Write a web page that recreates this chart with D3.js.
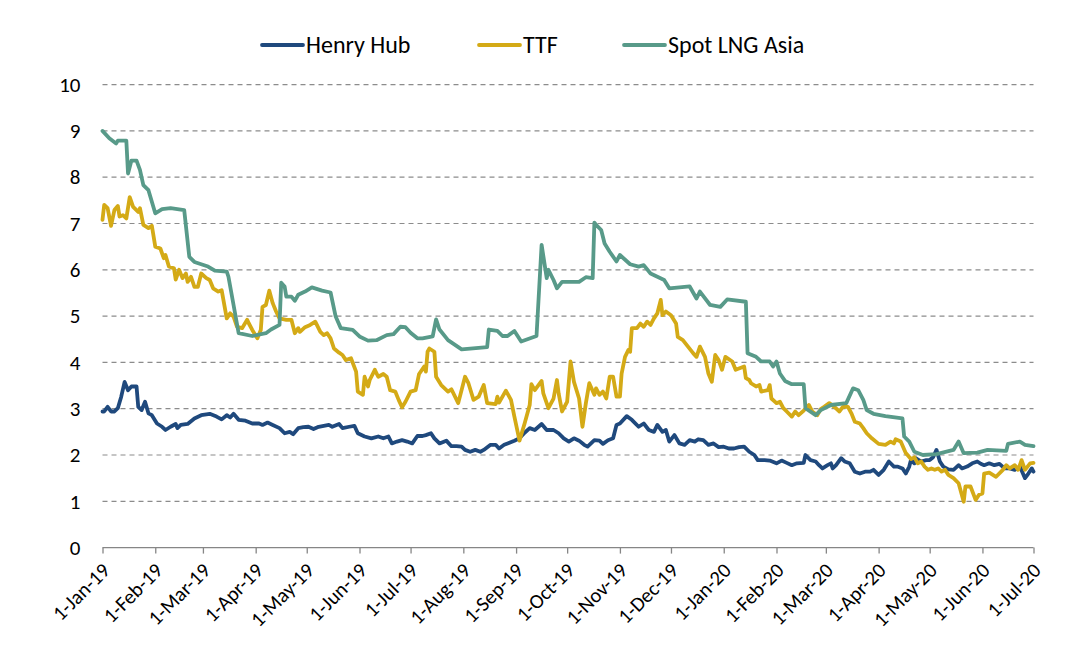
<!DOCTYPE html>
<html>
<head>
<meta charset="utf-8">
<script src="https://cdn.jsdelivr.net/npm/d3@7"></script>
<style>
	body { margin: 0; background: #fff; }
	svg { display: block; font-family: Carlito, Lato, "Noto Sans", sans-serif; }
	.grid line { stroke: #8c8c8c; stroke-dasharray: 5,4; stroke-width: 1.2; }
	.line { fill: none; stroke-width: 3.8; stroke-linejoin: round; stroke-linecap: round; }
</style>
</head>
<body>
<div class="chart"></div>
<script>
var WIDTH = 1079,
	HEIGHT = 669;

var LEFT = 102.5, RIGHT = 1033.5, TOP = 84.6, BOTTOM = 547.6;

var seriesNames = ["Henry Hub", "TTF", "Spot LNG Asia"];
var seriesColors = ["#1f497d", "#d4aa16", "#589a89"];
var yTicks = [0, 1, 2, 3, 4, 5, 6, 7, 8, 9, 10];
var xStart = "2019-01-01", xEnd = "2020-07-01";

// [date, $/MMBtu]
var henryHub = [
	["2019-01-01",2.94],["2019-01-02",2.94],["2019-01-04",3.04],["2019-01-06",2.94],["2019-01-08",2.94],
	["2019-01-10",3.01],["2019-01-12",3.26],["2019-01-14",3.58],["2019-01-16",3.40],["2019-01-18",3.48],
	["2019-01-21",3.48],["2019-01-22",3.04],["2019-01-24",2.97],["2019-01-26",3.15],["2019-01-28",2.90],
	["2019-01-30",2.86],["2019-02-02",2.68],["2019-02-05",2.61],["2019-02-07",2.54],["2019-02-10",2.61],
	["2019-02-13",2.67],["2019-02-14",2.58],["2019-02-16",2.65],["2019-02-20",2.67],["2019-02-24",2.79],
	["2019-02-28",2.86],["2019-03-05",2.89],["2019-03-09",2.83],["2019-03-12",2.77],["2019-03-15",2.86],
	["2019-03-17",2.81],["2019-03-19",2.89],["2019-03-22",2.76],["2019-03-26",2.74],["2019-03-30",2.68],
	["2019-04-03",2.68],["2019-04-05",2.65],["2019-04-08",2.70],["2019-04-11",2.65],["2019-04-15",2.58],
	["2019-04-18",2.47],["2019-04-21",2.50],["2019-04-23",2.45],["2019-04-26",2.58],["2019-04-29",2.60],
	["2019-05-02",2.61],["2019-05-05",2.56],["2019-05-08",2.61],["2019-05-11",2.63],["2019-05-14",2.65],
	["2019-05-16",2.61],["2019-05-20",2.67],["2019-05-22",2.58],["2019-05-26",2.61],["2019-05-29",2.63],
	["2019-05-31",2.47],["2019-06-04",2.40],["2019-06-08",2.36],["2019-06-12",2.40],["2019-06-15",2.36],
	["2019-06-18",2.40],["2019-06-20",2.25],["2019-06-23",2.29],["2019-06-26",2.32],["2019-06-29",2.29],
	["2019-07-02",2.25],["2019-07-05",2.41],["2019-07-08",2.41],["2019-07-10",2.43],["2019-07-13",2.47],
	["2019-07-15",2.36],["2019-07-18",2.25],["2019-07-22",2.31],["2019-07-25",2.19],["2019-07-28",2.19],
	["2019-07-31",2.18],["2019-08-02",2.11],["2019-08-05",2.07],["2019-08-08",2.11],["2019-08-11",2.07],
	["2019-08-13",2.11],["2019-08-17",2.22],["2019-08-20",2.22],["2019-08-22",2.14],["2019-08-25",2.22],
	["2019-08-27",2.25],["2019-08-31",2.31],["2019-09-03",2.36],["2019-09-06",2.48],["2019-09-09",2.58],
	["2019-09-12",2.54],["2019-09-16",2.67],["2019-09-19",2.54],["2019-09-23",2.54],["2019-09-26",2.47],
	["2019-09-29",2.36],["2019-10-02",2.29],["2019-10-05",2.36],["2019-10-08",2.31],["2019-10-11",2.22],
	["2019-10-13",2.18],["2019-10-17",2.32],["2019-10-20",2.31],["2019-10-22",2.24],["2019-10-25",2.32],
	["2019-10-28",2.36],["2019-10-30",2.65],["2019-11-01",2.68],["2019-11-05",2.84],["2019-11-08",2.76],
	["2019-11-12",2.61],["2019-11-15",2.68],["2019-11-18",2.54],["2019-11-21",2.50],["2019-11-23",2.65],
	["2019-11-26",2.50],["2019-11-28",2.54],["2019-11-30",2.29],["2019-12-03",2.43],["2019-12-06",2.25],
	["2019-12-09",2.22],["2019-12-12",2.32],["2019-12-15",2.29],["2019-12-17",2.34],["2019-12-20",2.32],
	["2019-12-23",2.22],["2019-12-26",2.25],["2019-12-29",2.17],["2020-01-01",2.18],["2020-01-04",2.14],
	["2020-01-07",2.14],["2020-01-10",2.17],["2020-01-13",2.18],["2020-01-16",2.07],["2020-01-19",2.00],
	["2020-01-21",1.89],["2020-01-25",1.89],["2020-01-28",1.88],["2020-02-01",1.82],["2020-02-04",1.88],
	["2020-02-07",1.83],["2020-02-10",1.78],["2020-02-13",1.82],["2020-02-17",1.83],["2020-02-18",2.00],
	["2020-02-21",1.89],["2020-02-24",1.86],["2020-02-26",1.78],["2020-02-28",1.71],["2020-03-02",1.78],
	["2020-03-04",1.82],["2020-03-05",1.71],["2020-03-07",1.78],["2020-03-10",1.93],["2020-03-12",1.86],
	["2020-03-15",1.82],["2020-03-18",1.64],["2020-03-21",1.60],["2020-03-24",1.64],["2020-03-27",1.64],
	["2020-03-29",1.68],["2020-04-01",1.57],["2020-04-04",1.68],["2020-04-07",1.86],["2020-04-10",1.75],
	["2020-04-12",1.75],["2020-04-15",1.71],["2020-04-17",1.60],["2020-04-19",1.75],["2020-04-20",1.89],
	["2020-04-22",1.82],["2020-04-23",1.93],["2020-04-26",1.86],["2020-04-29",1.89],["2020-05-01",1.89],
	["2020-05-03",1.95],["2020-05-05",2.11],["2020-05-07",1.86],["2020-05-09",1.75],["2020-05-12",1.69],
	["2020-05-15",1.68],["2020-05-18",1.78],["2020-05-20",1.71],["2020-05-23",1.75],["2020-05-26",1.82],
	["2020-05-29",1.86],["2020-05-31",1.81],["2020-06-02",1.78],["2020-06-05",1.82],["2020-06-08",1.78],
	["2020-06-11",1.81],["2020-06-14",1.71],["2020-06-17",1.71],["2020-06-20",1.68],["2020-06-23",1.75],
	["2020-06-26",1.50],["2020-06-28",1.60],["2020-06-30",1.71],["2020-07-01",1.64]
];

var ttf = [
	["2019-01-01",7.08],["2019-01-02",7.40],["2019-01-04",7.33],["2019-01-06",6.95],["2019-01-08",7.29],
	["2019-01-10",7.38],["2019-01-11",7.15],["2019-01-13",7.18],["2019-01-15",7.11],["2019-01-17",7.57],
	["2019-01-19",7.36],["2019-01-22",7.25],["2019-01-23",7.33],["2019-01-25",6.97],["2019-01-28",6.90],
	["2019-01-30",6.95],["2019-02-01",6.50],["2019-02-04",6.46],["2019-02-06",6.25],["2019-02-07",6.32],
	["2019-02-09",6.07],["2019-02-12",6.03],["2019-02-13",5.79],["2019-02-15",6.00],["2019-02-17",5.82],
	["2019-02-19",5.92],["2019-02-20",5.74],["2019-02-22",5.85],["2019-02-24",5.63],["2019-02-26",5.63],
	["2019-02-28",5.92],["2019-03-03",5.82],["2019-03-05",5.78],["2019-03-07",5.60],["2019-03-10",5.53],
	["2019-03-12",5.56],["2019-03-15",4.95],["2019-03-17",5.06],["2019-03-19",4.99],["2019-03-21",4.77],
	["2019-03-24",4.74],["2019-03-27",4.92],["2019-03-28",4.84],["2019-03-30",4.70],["2019-04-02",4.52],
	["2019-04-04",4.70],["2019-04-05",5.20],["2019-04-07",5.24],["2019-04-09",5.55],["2019-04-11",5.28],
	["2019-04-13",5.10],["2019-04-15",4.95],["2019-04-19",4.92],["2019-04-22",4.92],["2019-04-24",4.63],
	["2019-04-26",4.74],["2019-04-27",4.66],["2019-04-30",4.76],["2019-05-03",4.81],["2019-05-06",4.88],
	["2019-05-09",4.66],["2019-05-11",4.59],["2019-05-13",4.63],["2019-05-15",4.52],["2019-05-17",4.30],
	["2019-05-20",4.21],["2019-05-22",4.16],["2019-05-24",4.05],["2019-05-27",4.09],["2019-05-30",3.80],
	["2019-05-31",3.37],["2019-06-03",3.30],["2019-06-04",3.69],["2019-06-06",3.48],["2019-06-07",3.62],
	["2019-06-10",3.84],["2019-06-12",3.69],["2019-06-15",3.75],["2019-06-17",3.69],["2019-06-19",3.40],
	["2019-06-22",3.37],["2019-06-24",3.19],["2019-06-26",3.03],["2019-06-28",3.15],["2019-07-01",3.37],
	["2019-07-04",3.40],["2019-07-06",3.75],["2019-07-09",3.91],["2019-07-10",3.80],["2019-07-11",4.23],
	["2019-07-12",4.30],["2019-07-15",4.23],["2019-07-16",3.69],["2019-07-19",3.51],["2019-07-23",3.37],
	["2019-07-25",3.42],["2019-07-29",3.12],["2019-08-02",3.69],["2019-08-04",3.55],["2019-08-07",3.19],
	["2019-08-10",3.26],["2019-08-13",3.51],["2019-08-15",3.12],["2019-08-20",3.10],["2019-08-21",3.26],
	["2019-08-22",3.13],["2019-08-24",3.26],["2019-08-26",3.39],["2019-08-29",3.19],["2019-08-31",2.83],
	["2019-09-03",2.31],["2019-09-06",2.68],["2019-09-09",3.08],["2019-09-10",3.53],["2019-09-12",3.40],
	["2019-09-16",3.60],["2019-09-17",3.33],["2019-09-20",3.01],["2019-09-23",3.22],["2019-09-25",3.62],
	["2019-09-26",3.33],["2019-09-28",2.94],["2019-10-01",3.15],["2019-10-03",4.02],["2019-10-05",3.58],
	["2019-10-08",3.22],["2019-10-10",2.61],["2019-10-12",3.12],["2019-10-14",3.55],["2019-10-17",3.30],
	["2019-10-18",3.44],["2019-10-20",3.30],["2019-10-22",3.37],["2019-10-24",3.22],["2019-10-26",3.69],
	["2019-10-28",3.69],["2019-10-30",3.26],["2019-11-01",3.26],["2019-11-02",3.76],["2019-11-04",4.12],
	["2019-11-06",4.27],["2019-11-07",4.23],["2019-11-08",4.74],["2019-11-11",4.74],["2019-11-13",4.84],
	["2019-11-15",4.77],["2019-11-17",4.88],["2019-11-19",4.81],["2019-11-21",4.95],["2019-11-23",5.06],
	["2019-11-25",5.35],["2019-11-26",5.02],["2019-11-28",5.10],["2019-12-01",5.02],["2019-12-04",4.84],
	["2019-12-05",4.55],["2019-12-08",4.48],["2019-12-11",4.34],["2019-12-14",4.20],["2019-12-16",4.12],
	["2019-12-18",4.34],["2019-12-21",4.12],["2019-12-23",3.76],["2019-12-25",3.58],["2019-12-27",4.16],
	["2019-12-29",4.05],["2019-12-31",3.84],["2020-01-02",4.12],["2020-01-06",4.02],["2020-01-08",3.84],
	["2020-01-13",3.91],["2020-01-14",3.66],["2020-01-16",3.62],["2020-01-17",3.55],["2020-01-20",3.48],
	["2020-01-22",3.51],["2020-01-23",3.37],["2020-01-27",3.40],["2020-01-28",3.51],["2020-01-29",3.22],
	["2020-02-01",3.12],["2020-02-03",3.15],["2020-02-05",3.01],["2020-02-07",2.94],["2020-02-10",2.83],
	["2020-02-12",2.94],["2020-02-14",2.86],["2020-02-17",2.96],["2020-02-20",3.08],["2020-02-22",2.94],
	["2020-02-25",2.86],["2020-02-27",2.99],["2020-02-29",3.04],["2020-03-03",3.12],["2020-03-06",3.04],
	["2020-03-09",2.94],["2020-03-11",3.04],["2020-03-14",3.04],["2020-03-16",2.90],["2020-03-18",2.72],
	["2020-03-21",2.68],["2020-03-23",2.58],["2020-03-25",2.47],["2020-03-28",2.36],["2020-04-01",2.24],
	["2020-04-05",2.22],["2020-04-08",2.29],["2020-04-10",2.25],["2020-04-11",2.34],["2020-04-14",2.29],
	["2020-04-17",2.04],["2020-04-18",2.00],["2020-04-20",1.91],["2020-04-22",1.95],["2020-04-24",1.82],
	["2020-04-26",1.86],["2020-04-28",1.75],["2020-04-30",1.68],["2020-05-02",1.71],["2020-05-04",1.68],
	["2020-05-06",1.71],["2020-05-08",1.64],["2020-05-10",1.68],["2020-05-12",1.57],["2020-05-15",1.50],
	["2020-05-18",1.39],["2020-05-21",0.99],["2020-05-22",1.32],["2020-05-25",1.32],["2020-05-28",1.03],
	["2020-05-30",1.14],["2020-06-01",1.17],["2020-06-02",1.60],["2020-06-05",1.62],["2020-06-09",1.53],
	["2020-06-13",1.68],["2020-06-15",1.78],["2020-06-17",1.71],["2020-06-20",1.78],["2020-06-22",1.68],
	["2020-06-24",1.89],["2020-06-26",1.68],["2020-06-29",1.82],["2020-07-01",1.83]
];

var spotLngAsia = [
	["2019-01-01",9.00],["2019-01-05",8.84],["2019-01-09",8.73],["2019-01-10",8.79],["2019-01-15",8.79],
	["2019-01-16",8.08],["2019-01-18",8.36],["2019-01-21",8.36],["2019-01-23",8.16],["2019-01-25",7.83],
	["2019-01-28",7.72],["2019-02-01",7.22],["2019-02-05",7.31],["2019-02-10",7.33],["2019-02-18",7.29],
	["2019-02-21",6.28],["2019-02-24",6.17],["2019-03-04",6.07],["2019-03-08",5.98],["2019-03-15",5.96],
	["2019-03-16",5.85],["2019-03-22",4.63],["2019-03-30",4.57],["2019-04-07",4.63],["2019-04-10",4.71],
	["2019-04-15",4.81],["2019-04-16",5.72],["2019-04-18",5.64],["2019-04-19",5.42],["2019-04-22",5.42],
	["2019-04-24",5.33],["2019-04-26",5.46],["2019-04-30",5.53],["2019-05-04",5.62],["2019-05-10",5.55],
	["2019-05-15",5.51],["2019-05-18",4.99],["2019-05-21",4.74],["2019-05-28",4.70],["2019-06-01",4.56],
	["2019-06-06",4.47],["2019-06-11",4.48],["2019-06-17",4.59],["2019-06-21",4.61],["2019-06-25",4.77],
	["2019-06-28",4.76],["2019-07-01",4.64],["2019-07-05",4.52],["2019-07-08",4.52],["2019-07-14",4.56],
	["2019-07-16",4.93],["2019-07-18",4.71],["2019-07-23",4.48],["2019-07-31",4.28],["2019-08-15",4.33],
	["2019-08-16",4.71],["2019-08-21",4.68],["2019-08-24",4.57],["2019-08-27",4.57],["2019-08-31",4.68],
	["2019-09-04",4.45],["2019-09-13",4.57],["2019-09-16",6.54],["2019-09-19",5.82],["2019-09-20",6.00],
	["2019-09-23",5.78],["2019-09-25",5.60],["2019-09-28",5.74],["2019-10-08",5.74],["2019-10-12",5.84],
	["2019-10-16",5.82],["2019-10-17",7.02],["2019-10-18",6.97],["2019-10-21",6.86],["2019-10-23",6.57],
	["2019-10-26",6.39],["2019-10-30",6.18],["2019-11-01",6.32],["2019-11-07",6.12],["2019-11-12",6.07],
	["2019-11-15",6.10],["2019-11-19",5.92],["2019-11-27",5.78],["2019-11-30",5.60],["2019-12-12",5.64],
	["2019-12-16",5.38],["2019-12-18",5.53],["2019-12-24",5.24],["2019-12-30",5.20],["2020-01-03",5.36],
	["2020-01-14",5.31],["2020-01-15",4.20],["2020-01-20",4.12],["2020-01-23",4.02],["2020-01-28",4.02],
	["2020-01-30",3.91],["2020-02-01",4.02],["2020-02-03",3.76],["2020-02-06",3.60],["2020-02-10",3.53],
	["2020-02-17",3.53],["2020-02-18",3.01],["2020-02-24",2.86],["2020-02-27",2.97],["2020-03-04",3.08],
	["2020-03-13",3.12],["2020-03-17",3.44],["2020-03-20",3.40],["2020-03-23",3.19],["2020-03-25",2.97],
	["2020-03-29",2.89],["2020-04-05",2.84],["2020-04-15",2.79],["2020-04-16",2.40],["2020-04-19",2.29],
	["2020-04-22",2.07],["2020-04-27",2.00],["2020-05-05",2.02],["2020-05-15",2.11],["2020-05-18",2.29],
	["2020-05-21",2.04],["2020-05-29",2.05],["2020-06-04",2.11],["2020-06-15",2.09],["2020-06-16",2.24],
	["2020-06-23",2.29],["2020-06-26",2.22],["2020-07-01",2.19]
];

var parseDate = d3.timeParse("%Y-%m-%d");
var allSeries = [henryHub, ttf, spotLngAsia];

var svg = d3.select(".chart").append("svg")
	.attr("width", WIDTH)
	.attr("height", HEIGHT);

var xScale = d3.scaleTime()
	.domain([parseDate(xStart), parseDate(xEnd)])
	.range([LEFT, RIGHT]);

var yScale = d3.scaleLinear()
	.domain([0, 10])
	.range([BOTTOM, TOP]);

// gridlines
svg.append("g")
	.attr("class", "grid")
	.selectAll("line")
	.data(yTicks.filter(function(d) { return d > 0; }))
	.enter().append("line")
	.attr("x1", LEFT)
	.attr("x2", RIGHT)
	.attr("y1", function(d) { return yScale(d); })
	.attr("y2", function(d) { return yScale(d); });

// y axis labels
var yAxis = d3.axisLeft(yScale)
	.tickValues(yTicks)
	.tickSize(0)
	.tickPadding(0)
	.tickFormat(d3.format("d"));

var yAxisGroup = svg.append("g")
	.attr("transform", "translate(" + (LEFT - 22) + ",0)")
	.call(yAxis);
yAxisGroup.select(".domain").remove();
yAxisGroup.selectAll("text")
	.attr("font-size", 21)
	.attr("font-family", "Carlito, Lato, sans-serif")
	.attr("fill", "#000");

// x axis
var xAxis = d3.axisBottom(xScale)
	.ticks(d3.timeMonth.every(1))
	.tickSize(6)
	.tickFormat(d3.timeFormat("1-%b-%y"));

var xAxisGroup = svg.append("g")
	.attr("transform", "translate(0," + BOTTOM + ")")
	.call(xAxis);
xAxisGroup.select(".domain")
	.attr("d", "M" + LEFT + ",0H" + RIGHT)
	.attr("stroke", "#868686")
	.attr("stroke-width", 1.3);
xAxisGroup.selectAll(".tick line")
	.attr("stroke", "#868686")
	.attr("stroke-width", 1.3);
xAxisGroup.selectAll("text")
	.attr("font-size", 20.5)
	.attr("font-family", "Carlito, Lato, sans-serif")
	.attr("fill", "#000")
	.attr("text-anchor", "end")
	.attr("dy", "0.35em")
	.attr("transform", "translate(3,19) rotate(-45)")
	.attr("y", 0)
	.attr("x", 0);

// lines
var line = d3.line()
	.x(function(d) { return xScale(parseDate(d[0])); })
	.y(function(d) { return yScale(d[1]); });

svg.append("g").selectAll("path")
	.data(allSeries)
	.enter().append("path")
	.attr("class", "line")
	.attr("stroke", function(d, i) { return seriesColors[i]; })
	.attr("d", line);

// legend
var legendX = [262, 479, 624];
var legend = svg.append("g").selectAll("g")
	.data(seriesNames)
	.enter().append("g")
	.attr("transform", function(d, i) { return "translate(" + legendX[i] + ",45)"; });

legend.append("line")
	.attr("x1", 0).attr("x2", 41)
	.attr("y1", 0).attr("y2", 0)
	.attr("stroke", function(d, i) { return seriesColors[i]; })
	.attr("stroke-width", 3.8)
	.attr("stroke-linecap", "round");

legend.append("text")
	.attr("x", 44)
	.attr("dy", "0.35em")
	.attr("font-size", 24)
	.attr("fill", "#000")
	.text(function(d) { return d; });
</script>
</body>
</html>
